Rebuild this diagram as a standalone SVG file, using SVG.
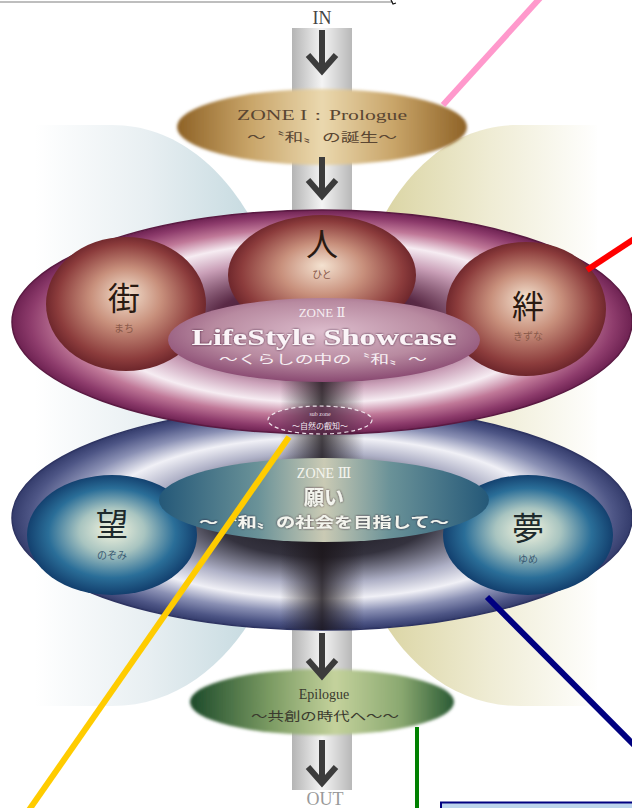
<svg xmlns="http://www.w3.org/2000/svg" width="632" height="808" viewBox="0 0 632 808">
<style>
.serif{font-family:"Liberation Serif","DejaVu Serif",serif;}
.jp{font-family:"Noto Sans CJK JP","Noto Sans",sans-serif;}
.kanji{font-family:"Noto Sans CJK JP",sans-serif;font-size:32px;text-anchor:middle;}
.ruby{font-family:"Noto Sans CJK JP",sans-serif;font-size:10px;text-anchor:middle;}
.mid{text-anchor:middle;}
.arrow{fill:none;stroke:#3c3c3c;stroke-width:6;stroke-linecap:butt;stroke-linejoin:miter;}
.callout{fill:none;stroke-linecap:butt;}
</style>
<defs>
  <linearGradient id="gCol" x1="0" y1="0" x2="1" y2="0">
    <stop offset="0" stop-color="#b4b4b4"/><stop offset="0.5" stop-color="#f4f4f4"/><stop offset="1" stop-color="#b8b8b8"/>
  </linearGradient>
  <linearGradient id="gLeftBack" gradientUnits="userSpaceOnUse" x1="35" y1="0" x2="260" y2="0">
    <stop offset="0" stop-color="#ffffff"/><stop offset="0.5" stop-color="#e8eff2"/><stop offset="1" stop-color="#c4d9df"/>
  </linearGradient>
  <linearGradient id="gRightBack" gradientUnits="userSpaceOnUse" x1="380" y1="0" x2="600" y2="0">
    <stop offset="0" stop-color="#dad4a2"/><stop offset="0.5" stop-color="#efecd4"/><stop offset="1" stop-color="#ffffff"/>
  </linearGradient>
  <linearGradient id="gZ1" x1="0" y1="0" x2="1" y2="0">
    <stop offset="0" stop-color="#8e6226"/><stop offset="0.25" stop-color="#c8a468"/><stop offset="0.5" stop-color="#ead8ae"/><stop offset="0.75" stop-color="#c8a468"/><stop offset="1" stop-color="#8e6226"/>
  </linearGradient>
  <linearGradient id="gEp" x1="0" y1="0" x2="1" y2="0">
    <stop offset="0" stop-color="#1c4a2a"/><stop offset="0.3" stop-color="#7a9a62"/><stop offset="0.55" stop-color="#c4d29c"/><stop offset="0.8" stop-color="#8aa870"/><stop offset="1" stop-color="#2a5a34"/>
  </linearGradient>
  <radialGradient id="gT2" cx="0.5" cy="0.5" r="0.5">
    <stop offset="0" stop-color="#241018"/><stop offset="0.35" stop-color="#5a2a46"/><stop offset="0.58" stop-color="#caa0b8"/><stop offset="0.72" stop-color="#f6ecf2"/><stop offset="0.84" stop-color="#c07898"/><stop offset="0.94" stop-color="#8e3c6c"/><stop offset="1" stop-color="#6e2252"/>
  </radialGradient>
  <radialGradient id="gT3" cx="0.5" cy="0.5" r="0.5">
    <stop offset="0" stop-color="#141218"/><stop offset="0.35" stop-color="#34323e"/><stop offset="0.58" stop-color="#aeb0c6"/><stop offset="0.72" stop-color="#f0f0f6"/><stop offset="0.84" stop-color="#8a90b4"/><stop offset="0.94" stop-color="#4e5686"/><stop offset="1" stop-color="#343c6c"/>
  </radialGradient>
  <radialGradient id="gSphB" cx="0.5" cy="0.5" r="0.55" fx="0.5" fy="0.42">
    <stop offset="0" stop-color="#f4e2d0"/><stop offset="0.4" stop-color="#c8907c"/><stop offset="0.78" stop-color="#8c3c3c"/><stop offset="1" stop-color="#5c1a22"/>
  </radialGradient>
  <radialGradient id="gSphU" cx="0.5" cy="0.5" r="0.55" fx="0.5" fy="0.45">
    <stop offset="0" stop-color="#f6f6e0"/><stop offset="0.35" stop-color="#a8c4c0"/><stop offset="0.68" stop-color="#2a6e98"/><stop offset="1" stop-color="#0a2e5e"/>
  </radialGradient>
  <radialGradient id="gIn2" cx="0.5" cy="0.4" r="0.6">
    <stop offset="0" stop-color="#dcbccc"/><stop offset="0.6" stop-color="#b88aa0"/><stop offset="1" stop-color="#8a4a72"/>
  </radialGradient>
  <linearGradient id="gIn3" x1="0" y1="0" x2="1" y2="0">
    <stop offset="0" stop-color="#245878"/><stop offset="0.3" stop-color="#6a9298"/><stop offset="0.5" stop-color="#cacab4"/><stop offset="0.7" stop-color="#6a9298"/><stop offset="1" stop-color="#245878"/>
  </linearGradient>
  <linearGradient id="gHole" x1="0" y1="0" x2="1" y2="0">
    <stop offset="0" stop-color="#1a1418" stop-opacity="0"/><stop offset="0.5" stop-color="#1a1418" stop-opacity="0.8"/><stop offset="1" stop-color="#1a1418" stop-opacity="0"/>
  </linearGradient>
  <clipPath id="cT2"><ellipse cx="322" cy="322" rx="310" ry="112"/></clipPath>
  <clipPath id="cT3"><ellipse cx="322" cy="518" rx="310" ry="112"/></clipPath>
  <filter id="soft" x="-10%" y="-10%" width="120%" height="120%"><feGaussianBlur stdDeviation="1.5"/></filter>
  <filter id="tsh" x="-10%" y="-30%" width="120%" height="160%"><feDropShadow dx="0" dy="0" stdDeviation="1" flood-color="#2a1020" flood-opacity="0.8"/></filter>
</defs>

<rect x="0" y="0" width="632" height="808" fill="#ffffff"/>

<g id="topline">
  <line x1="0" y1="2" x2="393" y2="2" stroke="#a8a8a8" stroke-width="1.5"/>
  <path d="M391,0 L393,4 L396,3" fill="none" stroke="#111" stroke-width="1.2"/>
</g>

<g id="backdrops">
  <path d="M35,125 L112,125 C180,125 232,175 262,240 L262,600 C232,660 180,706 112,706 L35,706 Z" fill="url(#gLeftBack)"/>
  <path d="M597,125 L518,125 C450,125 400,175 372,240 L372,600 C400,660 452,706 520,706 L597,706 Z" fill="url(#gRightBack)"/>
</g>

<g id="column">
  <rect x="292" y="28" width="60" height="762" fill="url(#gCol)"/>
</g>

<g id="in-label"><text class="serif mid" x="322" y="24" font-size="18" fill="#444">IN</text></g>
<g id="out-label"><text class="serif mid" x="325" y="805" font-size="18" fill="#999">OUT</text></g>

<g id="zone1">
  <ellipse cx="322" cy="127" rx="145" ry="38" fill="url(#gZ1)" filter="url(#soft)"/>
  <text class="serif mid" x="322" y="120" font-size="14" fill="#5a4632" textLength="170" lengthAdjust="spacingAndGlyphs">ZONE I：Prologue</text>
  <text class="jp mid" x="322" y="142" font-size="12" fill="#5a4632" textLength="150" lengthAdjust="spacingAndGlyphs">～〝和〟の誕生～</text>
</g>

<g id="zone3">
  <ellipse cx="322" cy="518" rx="310" ry="112" fill="url(#gT3)" stroke="#2e3462" stroke-width="1.5"/>
  <g clip-path="url(#cT3)">
    <rect x="280" y="420" width="84" height="215" fill="url(#gHole)"/>
  </g>
  <g id="zone3-nozomi">
    <ellipse cx="112" cy="535" rx="85" ry="60" fill="url(#gSphU)"/>
    <text class="kanji" x="112" y="536" font-size="34" fill="#1e2a2c">望</text>
    <text class="ruby" x="112" y="559" fill="#3a5a72">のぞみ</text>
  </g>
  <g id="zone3-yume">
    <ellipse cx="528" cy="535" rx="85" ry="60" fill="url(#gSphU)"/>
    <text class="kanji" x="528" y="540" font-size="34" fill="#1e2a2c">夢</text>
    <text class="ruby" x="528" y="563" fill="#3a5a72">ゆめ</text>
  </g>
  <g id="zone3-label">
    <ellipse cx="324" cy="500" rx="165" ry="42" fill="url(#gIn3)"/>
    <text class="serif mid" x="324" y="478" font-size="14" fill="#f4f4ee">ZONE Ⅲ</text>
    <text class="jp mid" x="324" y="505" font-size="20" font-weight="bold" fill="#f4f4ee" filter="url(#tsh)">願い</text>
    <text class="jp mid" x="324" y="527" font-size="14" font-weight="bold" fill="#f4f4ee" textLength="250" lengthAdjust="spacingAndGlyphs" filter="url(#tsh)">～〝和〟の社会を目指して～</text>
  </g>
</g>

<g id="zone2">
  <ellipse cx="322" cy="322" rx="310" ry="112" fill="url(#gT2)" stroke="#5a1a42" stroke-width="1.5"/>
  <g clip-path="url(#cT2)">
    <rect x="280" y="370" width="84" height="70" fill="url(#gHole)"/>
  </g>
  <g id="zone2-hito">
    <ellipse cx="322" cy="275" rx="94" ry="60" fill="url(#gSphB)"/>
    <text class="kanji" x="322" y="256" fill="#2a1a12">人</text>
    <text class="ruby" x="322" y="278" fill="#8a5a4a">ひと</text>
  </g>
  <g id="zone2-machi">
    <ellipse cx="126" cy="304" rx="80" ry="67" fill="url(#gSphB)"/>
    <text class="kanji" x="124" y="310" fill="#2a1a12">街</text>
    <text class="ruby" x="124" y="332" fill="#8a5a4a">まち</text>
  </g>
  <g id="zone2-kizuna">
    <ellipse cx="526" cy="309" rx="80" ry="67" fill="url(#gSphB)"/>
    <text class="kanji" x="528" y="318" fill="#2a1a12">絆</text>
    <text class="ruby" x="528" y="340" fill="#8a5a4a">きずな</text>
  </g>
  <g id="zone2-label">
    <ellipse cx="324" cy="340" rx="156" ry="42" fill="url(#gIn2)"/>
    <text class="serif mid" x="322" y="317" font-size="13" fill="#f6eef2">ZONE Ⅱ</text>
    <text class="serif mid" x="324" y="345" font-size="24" font-weight="bold" fill="#fbf4f8" textLength="265" lengthAdjust="spacingAndGlyphs" filter="url(#tsh)">LifeStyle Showcase</text>
    <text class="jp mid" x="323" y="364" font-size="12" fill="#f6eef2" textLength="208" lengthAdjust="spacingAndGlyphs">～くらしの中の〝和〟～</text>
  </g>
</g>

<g id="subzone">
  <ellipse cx="320" cy="420" rx="52" ry="14" fill="#7a3a64" fill-opacity="0.5" stroke="#f0e4ec" stroke-width="1.2" stroke-dasharray="4 3"/>
  <text class="serif mid" x="320" y="416" font-size="6" fill="#e8dce4">sub zone</text>
  <text class="jp mid" x="320" y="429" font-size="8" fill="#f0e6ee">～自然の叡知～</text>
</g>

<g id="epilogue">
  <ellipse cx="322" cy="702" rx="132" ry="33" fill="url(#gEp)" filter="url(#soft)"/>
  <text class="serif mid" x="324" y="699" font-size="14" fill="#3a3a2e">Epilogue</text>
  <text class="jp mid" x="325" y="721" font-size="12" fill="#3a3a2e" textLength="148" lengthAdjust="spacingAndGlyphs">～共創の時代へ～～</text>
</g>

<g id="connectors">
  <g id="flow-arrows">
    <path class="arrow" d="M322,30 V70 M308,55 L322,71 L336,55"/>
    <path class="arrow" d="M322,157 V196 M308,180 L322,196 L336,180"/>
    <path class="arrow" d="M322,633 V676 M308,660 L322,676 L336,660"/>
    <path class="arrow" d="M322,740 V783 M308,767 L322,783 L336,767"/>
  </g>
  <line class="callout" x1="443" y1="105" x2="541" y2="-3" stroke="#ff99cc" stroke-width="6"/>
  <line class="callout" x1="587" y1="270" x2="634" y2="239" stroke="#ff0000" stroke-width="6"/>
  <line class="callout" x1="289" y1="437" x2="29" y2="810" stroke="#ffcc00" stroke-width="6"/>
  <line class="callout" x1="487" y1="597" x2="634" y2="745" stroke="#000080" stroke-width="6"/>
  <line class="callout" x1="417" y1="727" x2="417" y2="808" stroke="#008000" stroke-width="4"/>
</g>

<g id="note-box">
  <rect x="441" y="802.5" width="200" height="20" fill="#bcd4ec" stroke="#000080" stroke-width="2"/>
</g>
</svg>
